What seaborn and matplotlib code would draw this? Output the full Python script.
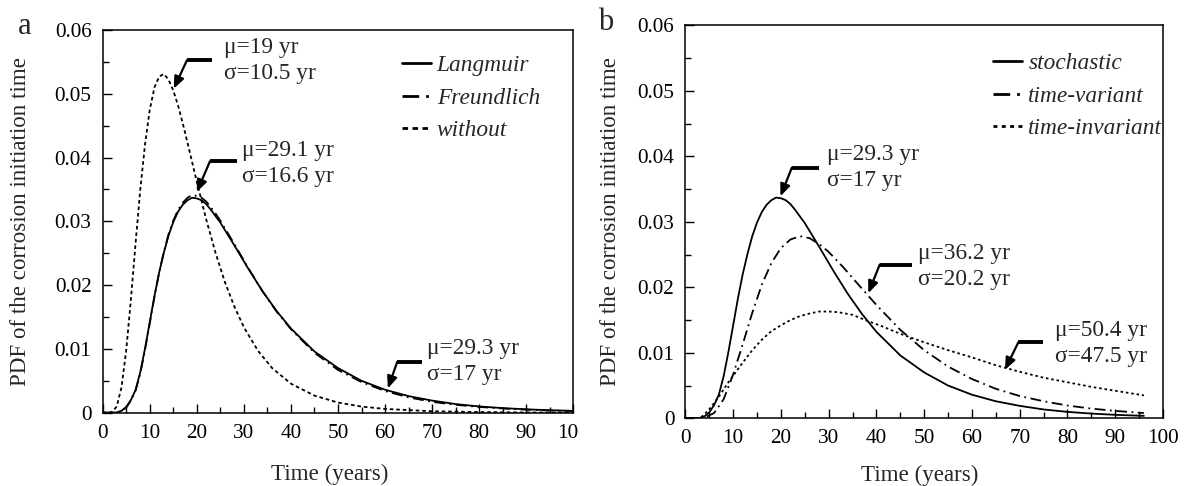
import matplotlib
matplotlib.use("Agg")
import matplotlib.pyplot as plt
import seaborn as sns
import pandas as pd
from matplotlib.ticker import MultipleLocator, FuncFormatter
from matplotlib.patches import Rectangle

# ---------------- data ----------------
# Panel a
a_time = [0, 2, 3, 4, 5, 6, 7, 8, 9, 10, 11, 12, 13, 14, 15, 16, 17, 18, 19, 20, 21,
          22, 23, 24, 25, 28, 31, 34, 37, 40, 45, 50, 55, 60, 65, 70, 75, 80, 85, 90,
          95, 100]
a_langmuir = [0, 0, 0.00005, 0.0003, 0.0009, 0.0020, 0.0036, 0.0064, 0.0101, 0.0142,
              0.0183, 0.0220, 0.0251, 0.0278, 0.0299, 0.0315, 0.0326, 0.0333, 0.0337,
              0.0336, 0.0333, 0.0327, 0.0318, 0.0308, 0.0298, 0.0262, 0.0225, 0.0190,
              0.0159, 0.0132, 0.0096, 0.0070, 0.0050, 0.0036, 0.0026, 0.0019, 0.00135,
              0.00098, 0.00072, 0.00053, 0.00039, 0.00029]
a_freundlich = [0, 0, 0.00004, 0.0003, 0.0008, 0.0019, 0.0035, 0.0062, 0.0099, 0.0140,
                0.0182, 0.0220, 0.0252, 0.0280, 0.0301, 0.0318, 0.0329, 0.0337, 0.0341,
                0.0340, 0.0337, 0.0331, 0.0322, 0.0312, 0.0301, 0.0264, 0.0226, 0.0190,
                0.0158, 0.0131, 0.0094, 0.0067, 0.0048, 0.0034, 0.0024, 0.0017, 0.00124,
                0.0009, 0.00066, 0.00048, 0.00035, 0.00026]
a_without_time = [0, 2, 3, 4, 5, 6, 7, 8, 9, 10, 11, 12, 13, 14, 15, 16, 17, 18, 20, 22,
                  24, 26, 28, 30, 33, 36, 40, 45, 50, 55, 60, 70, 80, 90, 100]
a_without = [0, 0.0001, 0.0010, 0.0040, 0.0098, 0.0178, 0.0267, 0.0351, 0.0421, 0.0475,
             0.0510, 0.0527, 0.0531, 0.0522, 0.0505, 0.0482, 0.0454, 0.0424, 0.0362,
             0.0303, 0.0250, 0.0204, 0.0166, 0.0134, 0.0097, 0.0070, 0.00455, 0.00268,
             0.00159, 0.00096, 0.00059, 0.00023, 0.0001, 0.00004, 0.00002]

# Panel b
b_stoch_time = [0, 2, 3, 4, 5, 6, 7, 8, 9, 10, 11, 12, 13, 14, 15, 16, 17, 18, 19, 20,
                21, 22, 23, 24, 25, 28, 31, 34, 37, 40, 45, 50, 55, 60, 65, 70, 75, 80,
                85, 90, 96]
b_stochastic = [0, 0, 0.00005, 0.0003, 0.0009, 0.0020, 0.0036, 0.0064, 0.0101, 0.0142,
                0.0183, 0.0220, 0.0251, 0.0278, 0.0299, 0.0315, 0.0326, 0.0333, 0.0337,
                0.0336, 0.0333, 0.0327, 0.0318, 0.0308, 0.0298, 0.0262, 0.0225, 0.0190,
                0.0159, 0.0132, 0.0096, 0.0070, 0.0050, 0.0036, 0.0026, 0.0019, 0.00135,
                0.00098, 0.00072, 0.00053, 0.00037]
b_tv_time = [0, 2, 4, 6, 8, 10, 12, 14, 16, 18, 20, 22, 24, 26, 28, 30, 33, 36, 40, 45,
             50, 55, 60, 65, 70, 75, 80, 85, 90, 96]
b_time_variant = [0, 0, 0.0001, 0.0008, 0.0029, 0.0067, 0.0113, 0.0161, 0.0204, 0.0237,
                  0.0260, 0.0273, 0.0278, 0.0275, 0.0266, 0.0254, 0.0231, 0.0206, 0.0173,
                  0.0135, 0.0104, 0.0079, 0.0060, 0.0045, 0.0034, 0.0026, 0.00195,
                  0.00148, 0.00113, 0.0008]
b_ti_time = [0, 2, 3, 4, 5, 6, 7, 8, 9, 10, 12, 14, 16, 18, 20, 22, 24, 26, 28, 30, 32,
             35, 38, 41, 45, 50, 55, 60, 65, 70, 75, 80, 85, 90, 96]
b_time_invariant = [0, 0, 0, 0.0006, 0.0014, 0.0023, 0.0033, 0.0044, 0.0055, 0.0065,
                    0.0085, 0.0104, 0.0120, 0.0133, 0.0142, 0.0150, 0.0156, 0.0160,
                    0.0163, 0.0163, 0.0162, 0.0158, 0.0149, 0.0141, 0.0129, 0.0116,
                    0.0104, 0.0093, 0.0081, 0.0071, 0.0062, 0.0055, 0.0048, 0.0042,
                    0.0035]

a_labels = ["Langmuir", "Freundlich", "without"]
b_labels = ["stochastic", "time-variant", "time-invariant"]
a_notes = ["\u03bc=19 yr\n\u03c3=10.5 yr", "\u03bc=29.1 yr\n\u03c3=16.6 yr",
           "\u03bc=29.3 yr\n\u03c3=17 yr"]
b_notes = ["\u03bc=29.3 yr\n\u03c3=17 yr", "\u03bc=36.2 yr\n\u03c3=20.2 yr",
           "\u03bc=50.4 yr\n\u03c3=47.5 yr"]

# ---------------- styling / layout ----------------
sns.set_theme(style="ticks")
plt.rcParams["font.family"] = ["Liberation Serif", "DejaVu Serif"]
plt.rcParams["axes.edgecolor"] = "black"
plt.rcParams["axes.linewidth"] = 1.1
plt.rcParams["xtick.color"] = "black"
plt.rcParams["ytick.color"] = "black"

DASHDOT = (0, (6, 2.5, 1, 2.5))
DOT_A = (0, (2.0, 1.6))
DOT_B = (0, (1.4, 1.6))
LW = 1.3
TICK_FS = 15.3
LABEL_FS = 16.6
NOTE_FS = 16.8

fig = plt.figure(figsize=(11.87, 4.86), dpi=100)
axA = fig.add_axes([0.08652, 0.15082, 0.39646, 0.78745])
axB = fig.add_axes([0.57742, 0.13930, 0.40236, 0.80864])

# panel a curves
sns.lineplot(x=a_time, y=a_langmuir, ax=axA, color="black", lw=LW,
             linestyle="-", label=a_labels[0])
sns.lineplot(x=a_time, y=a_freundlich, ax=axA, color="black", lw=LW,
             linestyle=DASHDOT, label=a_labels[1])
sns.lineplot(x=a_without_time, y=a_without, ax=axA, color="black", lw=LW,
             linestyle=DOT_A, label=a_labels[2])

# panel b curves
sns.lineplot(x=b_stoch_time, y=b_stochastic, ax=axB, color="black", lw=LW,
             linestyle="-", label=b_labels[0])
sns.lineplot(x=b_tv_time, y=b_time_variant, ax=axB, color="black", lw=LW,
             linestyle=DASHDOT, label=b_labels[1])
sns.lineplot(x=b_ti_time, y=b_time_invariant, ax=axB, color="black", lw=LW,
             linestyle=DOT_B, label=b_labels[2])

# annotation geometry: (text x, text y, bar x0, bar x1, bar y, tip x, tip y)
a_note_pos = [(25.7, 0.05525, 17.9, 23.2, 0.05525, 15.1, 0.0508),
              (29.7, 0.03906, 22.8, 28.5, 0.03943, 20.0, 0.0346),
              (68.9, 0.0080, 62.6, 67.9, 0.00799, 60.6, 0.0038)]
b_note_pos = [(29.7, 0.03828, 22.3, 27.9, 0.03828, 19.9, 0.0339),
              (48.8, 0.02323, 40.7, 47.5, 0.02348, 38.3, 0.0191),
              (77.4, 0.01148, 69.7, 74.9, 0.01158, 66.9, 0.0074)]


def fmt_y(v, _):
    return "0" if abs(v) < 1e-12 else f"{v:.2f}"


for ax, notes, pos, leg_anchor, ylab_x, xlab in (
        (axA, a_notes, a_note_pos, (0.6354, 0.935), -0.152, (0.483, -0.134)),
        (axB, b_notes, b_note_pos, (0.6447, 0.930), -0.135, (0.491, -0.118))):
    ax.set_xlim(0, 100)
    ax.set_ylim(0, 0.06)
    ax.xaxis.set_major_locator(MultipleLocator(10))
    ax.xaxis.set_minor_locator(MultipleLocator(5))
    ax.yaxis.set_major_locator(MultipleLocator(0.01))
    ax.yaxis.set_minor_locator(MultipleLocator(0.005))
    ax.yaxis.set_major_formatter(FuncFormatter(fmt_y))
    ax.xaxis.set_major_formatter(FuncFormatter(lambda v, _: f"{int(round(v))}"))
    ax.tick_params(which="both", direction="in", top=False, right=False, width=1.0)
    ax.tick_params(which="major", length=6.5, labelsize=TICK_FS, pad=8)
    ax.tick_params(which="minor", length=4.3)
    for s in ax.spines.values():
        s.set_visible(True)
        s.set_color("black")
        s.set_linewidth(1.1)
    ax.set_xlabel("Time (years)", fontsize=LABEL_FS)
    ax.set_ylabel("PDF of the corrosion initiation time", fontsize=LABEL_FS)
    ax.yaxis.set_label_coords(ylab_x, 0.5)
    ax.xaxis.set_label_coords(*xlab)
    ax.grid(False)

    leg = ax.legend(loc="upper left", bbox_to_anchor=leg_anchor, frameon=False,
                    borderpad=0, borderaxespad=0, handlelength=1.25,
                    handletextpad=0.25, labelspacing=0.48,
                    prop={"family": ["Liberation Serif"], "style": "italic",
                          "size": 16.8})
    for ln in leg.get_lines():
        ln.set_linewidth(2.0)

    for note, (tx, ty, bx0, bx1, by, px, py) in zip(notes, pos):
        ax.plot([bx0, bx1], [by, by], color="black", lw=2.8,
                solid_capstyle="butt")
        ax.annotate("", xy=(px, py), xytext=(bx0, by),
                    arrowprops=dict(arrowstyle="-|>,head_length=0.6,head_width=0.25",
                                    color="black", lw=1.6, shrinkA=0, shrinkB=0))
        ax.text(tx, ty, note, ha="left", va="center", fontsize=NOTE_FS,
                linespacing=1.3)

# panel letters
fig.text(25 / 1187, 1 - 34 / 486, "a", fontsize=22, ha="center", va="baseline")
fig.text(605.7 / 1187, 1 - 30 / 486, "b", fontsize=22, ha="center", va="baseline")

# panel a is cropped at the right: the last tick label shows only "10"
fig.add_artist(Rectangle((579 / 1187, 1 - 458 / 486), 14 / 1187, 36 / 486,
                         transform=fig.transFigure, facecolor="white",
                         edgecolor="none", zorder=10))

fig.savefig("out.png", dpi=100, facecolor="white")
